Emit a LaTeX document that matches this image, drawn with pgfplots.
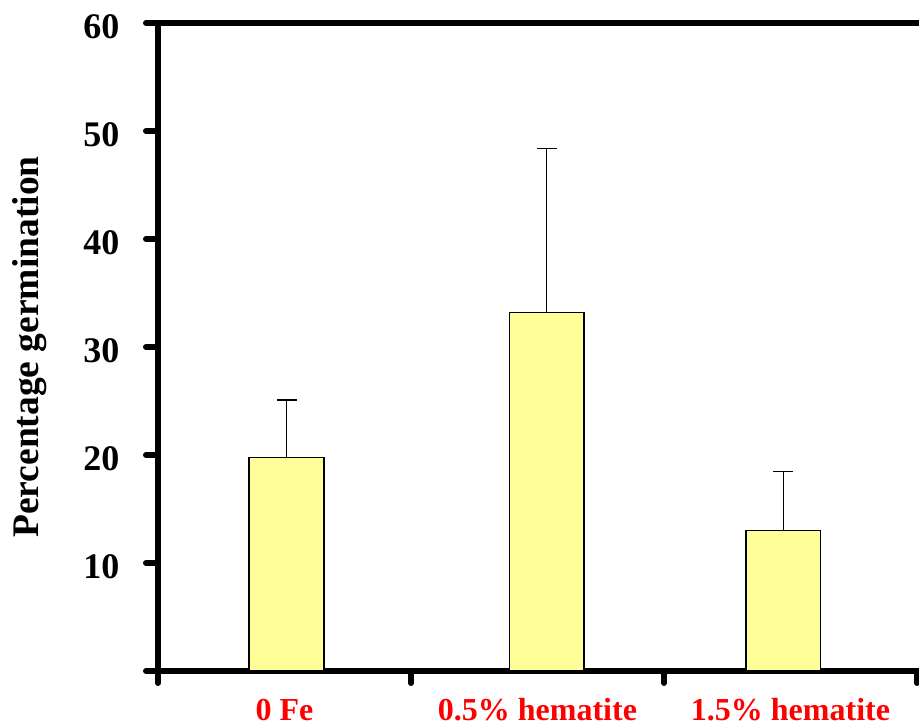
\documentclass[border=0pt]{standalone}
\usepackage{pgfplots}
\pgfplotsset{compat=1.18}
\usepackage{fontspec}
\setmainfont{Liberation Serif}
\definecolor{baryellow}{HTML}{FFFF99}
\begin{document}
\begin{tikzpicture}
\begin{axis}[
  at={(0,0)}, anchor=south west,
  scale only axis, width=759pt, height=648pt,
  xmin=-0.5, xmax=2.5, ymin=0, ymax=60,
  clip=false,
  axis x line*=bottom, axis y line*=left,
  axis line style={line width=6.5pt, -},
  tick align=outside,
  tick style={line width=6pt, line cap=round, black},
  major tick length=12pt,
  ytick={0,10,...,60},
  yticklabels={,10,20,30,40,50,60},
  /pgf/number format/assume math mode=true,
  yticklabel style={font=\fontsize{36}{40}\selectfont\bfseries, anchor=east, xshift=-23pt, yshift=-4pt},
  xtick={-0.5,0.5,1.5,2.5}, xticklabels={},
  extra x ticks={0,1,2},
  extra x tick labels={0 Fe,0.5\% hematite,1.5\% hematite},
  extra x tick style={major tick length=0pt, tick style={draw=none},
     xticklabel style={text=red, font=\fontsize{32}{38}\selectfont\bfseries, anchor=base, text depth=0pt, inner sep=0pt, yshift=-50pt}},
  ylabel={Percentage germination},
  ylabel style={font=\fontsize{37.5}{42}\selectfont\bfseries, at={(axis description cs:0,0.5)}, anchor=center, yshift=128pt},
]
\addplot[ybar, bar width=0.296, fill=baryellow, draw=black, line width=1.2pt,
  error bars/.cd, y dir=plus, y explicit,
  error bar style={line width=1.2pt, black},
  error mark options={line width=1.2pt, mark size=10pt, black, rotate=90}]
  coordinates {(0.008,19.8) +- (0,5.3) (1.036,33.2) +- (0,15.2) (1.972,13.0) +- (0,5.5)};
\draw[line width=6.5pt, line cap=rect] (rel axis cs:0,1) -- ([xshift=10pt]rel axis cs:1,1);
\draw[line width=6.5pt] (rel axis cs:1,0) -- ([xshift=10pt]rel axis cs:1,0);
\end{axis}
\pgfresetboundingbox
\path (-158pt,-56pt) rectangle (761pt,671pt);
\end{tikzpicture}
\end{document}
